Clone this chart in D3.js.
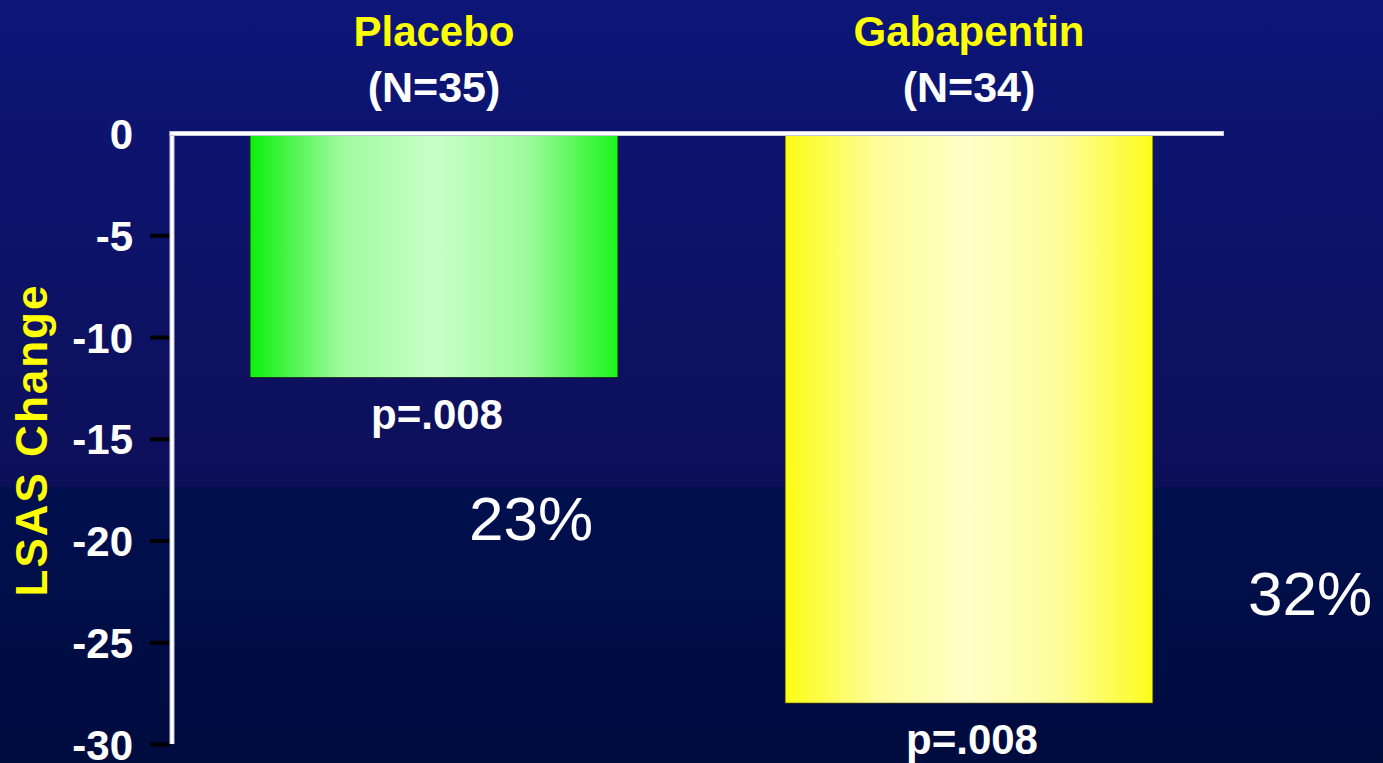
<!DOCTYPE html>
<html>
<head>
<meta charset="utf-8">
<script src="https://cdn.jsdelivr.net/npm/d3@7"></script>
<style>
  html, body { margin: 0; padding: 0; background: #0c1268; }
  svg { display: block; }
  text { font-family: "Liberation Sans", Arial, Helvetica, sans-serif; }
</style>
</head>
<body>
<svg id="chart" width="1383" height="763"></svg>
<script>
// Mean change in LSAS score by treatment group
const groups = ["Placebo", "Gabapentin"];
const groupN = ["(N=35)", "(N=34)"];
const lsasChange = [-12, -28];
const pLabels = ["p=.008", "p=.008"];
const pctLabels = ["23%", "32%"];
const yTicks = [0, -5, -10, -15, -20, -25, -30];

const W = 1383, H = 763;
const svg = d3.select("#chart");
const defs = svg.append("defs");

// Background: navy gradient with a darker lower band
const bgTop = defs.append("linearGradient").attr("id", "bgTop")
  .attr("x1", 0).attr("y1", 0).attr("x2", 0).attr("y2", 1);
bgTop.append("stop").attr("offset", "0%").attr("stop-color", "#0c1678");
bgTop.append("stop").attr("offset", "100%").attr("stop-color", "#0d0f58");
const bgBot = defs.append("linearGradient").attr("id", "bgBot")
  .attr("x1", 0).attr("y1", 0).attr("x2", 0).attr("y2", 1);
bgBot.append("stop").attr("offset", "0%").attr("stop-color", "#00104f");
bgBot.append("stop").attr("offset", "100%").attr("stop-color", "#000b3e");

const bandY = 487;
svg.append("rect").attr("x", 0).attr("y", 0).attr("width", W).attr("height", bandY).attr("fill", "url(#bgTop)");
svg.append("rect").attr("x", 0).attr("y", bandY).attr("width", W).attr("height", H - bandY).attr("fill", "url(#bgBot)");

// Horizontal shading for each bar: saturated edges, pale centre
function barGradient(id, edgeL, mid, centre, edgeR) {
  const g = defs.append("linearGradient").attr("id", id)
    .attr("x1", 0).attr("y1", 0).attr("x2", 1).attr("y2", 0);
  g.append("stop").attr("offset", "0%").attr("stop-color", edgeL);
  g.append("stop").attr("offset", "25%").attr("stop-color", mid);
  g.append("stop").attr("offset", "50%").attr("stop-color", centre);
  g.append("stop").attr("offset", "75%").attr("stop-color", mid);
  g.append("stop").attr("offset", "100%").attr("stop-color", edgeR);
}
barGradient("gPlacebo", "#0cf00c", "#9ffb9f", "#c8ffc8", "#1cf51c");
barGradient("gGaba", "#fcfc14", "#fdfd9a", "#ffffc8", "#fcfc1c");
const fills = ["url(#gPlacebo)", "url(#gGaba)"];

// Scales
const axisX = 172, axisRight = 1224, labelRight = 133;
const y = d3.scaleLinear().domain([0, -30]).range([133.5, 744]);
const x = d3.scaleBand().domain(groups).range([166.5, 1236.5])
  .paddingInner(0.312).paddingOuter(0.156);

// Bars
svg.append("g").selectAll("rect").data(groups).join("rect")
  .attr("x", d => x(d))
  .attr("y", y(0))
  .attr("width", x.bandwidth())
  .attr("height", (d, i) => y(lsasChange[i]) - y(0))
  .attr("fill", (d, i) => fills[i])
  .attr("stroke", "#1a1a1a")
  .attr("stroke-width", 1);

// Y axis: black tick marks, bold white labels
const yAxis = d3.axisLeft(y).tickValues(yTicks).tickSize(20)
  .tickFormat(d => String(d));
const gy = svg.append("g").attr("transform", `translate(${axisX - 2},0)`).call(yAxis);
gy.select(".domain").remove();
gy.selectAll(".tick line").attr("stroke", "#000").attr("stroke-width", 4)
  .attr("display", d => d === 0 ? "none" : null);
gy.selectAll(".tick text")
  .attr("fill", "#fff").attr("font-size", 42).attr("font-weight", "bold")
  .attr("font-family", "'Liberation Sans', Arial, sans-serif")
  .attr("x", labelRight - (axisX - 2)).attr("dy", "0.36em");

// Axis lines (white, with a faint grey edge)
svg.append("line").attr("x1", axisX).attr("x2", axisX).attr("y1", 131.5).attr("y2", y(-30))
  .attr("stroke", "#c8c8dc").attr("stroke-width", 5);
svg.append("line").attr("x1", axisX).attr("x2", axisX).attr("y1", 131.5).attr("y2", y(-30))
  .attr("stroke", "#fff").attr("stroke-width", 3);
svg.append("line").attr("x1", axisX - 2.5).attr("x2", axisRight).attr("y1", y(0)).attr("y2", y(0))
  .attr("stroke", "#c8c8dc").attr("stroke-width", 5);
svg.append("line").attr("x1", axisX - 1.5).attr("x2", axisRight - 1).attr("y1", y(0)).attr("y2", y(0))
  .attr("stroke", "#fff").attr("stroke-width", 3);

// Y-axis title
svg.append("text")
  .attr("transform", `translate(47,440) rotate(-90)`)
  .attr("text-anchor", "middle")
  .attr("fill", "#ffff00").attr("font-size", 44).attr("font-weight", "bold")
  .attr("letter-spacing", 2)
  .text("LSAS Change");

// Group names and sizes above the bars
const cx = d => x(d) + x.bandwidth() / 2;
svg.append("g").selectAll("text").data(groups).join("text")
  .attr("x", d => cx(d)).attr("y", 46)
  .attr("text-anchor", "middle").attr("fill", "#ffff00")
  .attr("font-size", 42).attr("font-weight", "bold")
  .text(d => d);
svg.append("g").selectAll("text").data(groups).join("text")
  .attr("x", d => cx(d)).attr("y", 102)
  .attr("text-anchor", "middle").attr("fill", "#fff")
  .attr("font-size", 43).attr("font-weight", "bold")
  .text((d, i) => groupN[i]);

// p-values under each bar
svg.append("g").selectAll("text").data(groups).join("text")
  .attr("x", d => cx(d) + 3).attr("y", (d, i) => y(lsasChange[i]) + 51)
  .attr("text-anchor", "middle").attr("fill", "#fff")
  .attr("font-size", 42).attr("font-weight", "bold")
  .text((d, i) => pLabels[i]);

// Percentage improvement labels
const pctPos = [[531, 540], [1310, 615]];
svg.append("g").selectAll("text").data(pctLabels).join("text")
  .attr("x", (d, i) => pctPos[i][0]).attr("y", (d, i) => pctPos[i][1])
  .attr("text-anchor", "middle").attr("fill", "#fff")
  .attr("font-size", 62)
  .text(d => d);
</script>
</body>
</html>
